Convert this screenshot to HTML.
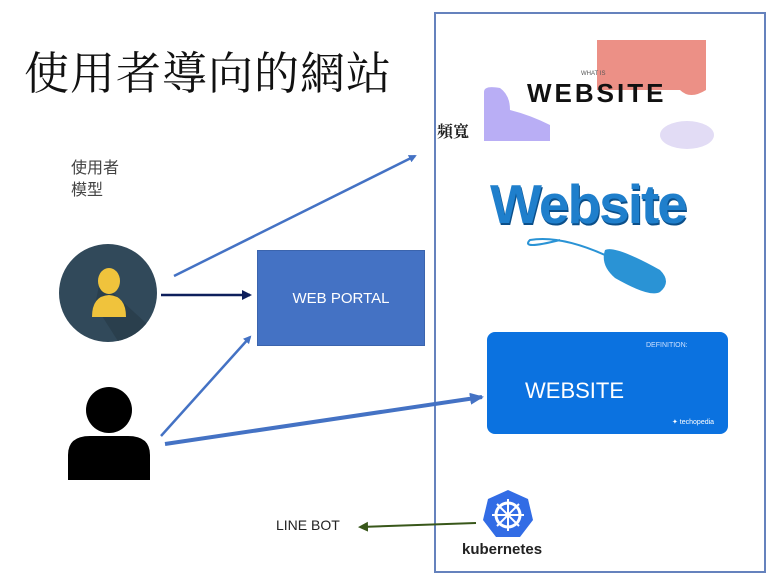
<!DOCTYPE html>
<html><head><meta charset="utf-8"><style>
body{margin:0;width:767px;height:575px;background:#fff;position:relative;overflow:hidden;font-family:"Liberation Sans","Noto Sans CJK TC",sans-serif}
.a{position:absolute;white-space:nowrap}
</style></head><body>
<div class="a" style="left:24px;top:37px;font-size:45px;font-family:'Liberation Serif','Noto Serif CJK SC',serif;color:#111;letter-spacing:1px">使用者導向的網站</div>
<div class="a" style="left:71px;top:158px;font-size:16px;line-height:22px;color:#444">使用者<br>模型</div>
<div class="a" style="left:257px;top:250px;width:168px;height:96px;background:#4472c4;border:1px solid #3b64ad;box-sizing:border-box;color:#fff;font-size:15px;text-align:center;line-height:96px">WEB PORTAL</div>
<div class="a" style="left:434px;top:12px;width:332px;height:561px;border:2px solid #6582bd;box-sizing:border-box"></div>
<svg class="a" style="left:0;top:0" width="767" height="575">
<defs>
<marker id="m1" markerWidth="8" markerHeight="8" refX="6" refY="4" orient="auto" markerUnits="userSpaceOnUse"><path d="M0,0 L8,4 L0,8z" fill="#4472c4"/></marker>
<marker id="m2" markerWidth="10" markerHeight="10" refX="8" refY="5" orient="auto" markerUnits="userSpaceOnUse"><path d="M0,0 L10,5 L0,10z" fill="#0d1f5c"/></marker>
<marker id="m3" markerWidth="14" markerHeight="12" refX="12" refY="6" orient="auto" markerUnits="userSpaceOnUse"><path d="M0,0 L14,6 L0,12z" fill="#4472c4"/></marker>
<marker id="m4" markerWidth="10" markerHeight="10" refX="8" refY="5" orient="auto" markerUnits="userSpaceOnUse"><path d="M0,0 L10,5 L0,10z" fill="#38571a"/></marker>
<clipPath id="cc"><circle cx="108" cy="293" r="49"/></clipPath>
</defs>
<circle cx="108" cy="293" r="49" fill="#31495a"/>
<path d="M100,281 L170,345 L130,360 L95,305z" fill="#2a3f4d" clip-path="url(#cc)"/>
<ellipse cx="109" cy="281" rx="11" ry="13" fill="#f0c33c"/>
<path d="M92,317 Q92,296 109,295 Q126,296 126,317z" fill="#f0c33c"/>
<circle cx="109" cy="410" r="23" fill="#000"/>
<path d="M68,480 L68,455 Q68,436 90,436 L128,436 Q150,436 150,455 L150,480z" fill="#000"/>
<line x1="174" y1="276" x2="415" y2="156" stroke="#4472c4" stroke-width="2.5" marker-end="url(#m1)"/>
<line x1="161" y1="295" x2="250" y2="295" stroke="#0d1f5c" stroke-width="2.5" marker-end="url(#m2)"/>
<line x1="161" y1="436" x2="250" y2="337" stroke="#4472c4" stroke-width="2.5" marker-end="url(#m1)"/>
<line x1="165" y1="444" x2="482" y2="397" stroke="#4472c4" stroke-width="4" marker-end="url(#m3)"/>
<line x1="476" y1="523" x2="360" y2="527" stroke="#38571a" stroke-width="2" marker-end="url(#m4)"/>
<path d="M597,40 L706,40 L706,90 Q690,100 680,90 L597,90z" fill="#ec9086"/>
<path d="M484,92 Q484,85 500,88 Q510,95 510,110 Q530,115 550,125 L550,141 L484,141z" fill="#b9aef5"/>
<ellipse cx="687" cy="135" rx="27" ry="14" fill="#e2dcf5"/>
<path d="M605,250 Q615,245 660,270 Q672,282 660,292 Q650,298 615,278 Q600,265 605,250z" fill="#2a93d5"/>
<path d="M560,240 Q520,250 530,240 Q560,235 605,255" fill="none" stroke="#2a93d5" stroke-width="2"/>
<rect x="487" y="332" width="241" height="102" rx="8" fill="#0b72e0"/>
<path d="M508,490 L528,499 L533,520 L520,537 L496,537 L483,520 L488,499z" fill="#326ce5"/>
<circle cx="508" cy="515" r="12" fill="none" stroke="#fff" stroke-width="3"/>
<path d="M508,499 V531 M492,515 H524 M497,504 L519,526 M519,504 L497,526" stroke="#fff" stroke-width="2"/>
</svg>
<div class="a" style="left:527px;top:78px;font-size:26px;font-weight:bold;color:#111;letter-spacing:3px">WEBSITE</div>
<div class="a" style="left:581px;top:71px;font-size:6px;color:#555">WHAT IS</div>
<div class="a" style="left:437px;top:119px;font-size:16px;font-weight:bold;font-family:'Liberation Serif','Noto Serif CJK SC',serif;color:#222">頻寬</div>
<div class="a" style="left:490px;top:172px;font-size:55px;font-weight:bold;color:#1f7fcc;letter-spacing:-2px;text-shadow:1px 2px 0 #0b4f8a">Website</div>
<div class="a" style="left:525px;top:378px;font-size:22px;color:#fff">WEBSITE</div>
<div class="a" style="left:646px;top:342px;font-size:7px;color:#cfe2ff">DEFINITION:</div>
<div class="a" style="left:672px;top:418px;font-size:7px;color:#fff">✦ techopedia</div>
<div class="a" style="left:462px;top:541px;font-size:15px;font-weight:bold;color:#222">kubernetes</div>
<div class="a" style="left:276px;top:517px;font-size:14px;color:#222">LINE BOT</div>
</body></html>
